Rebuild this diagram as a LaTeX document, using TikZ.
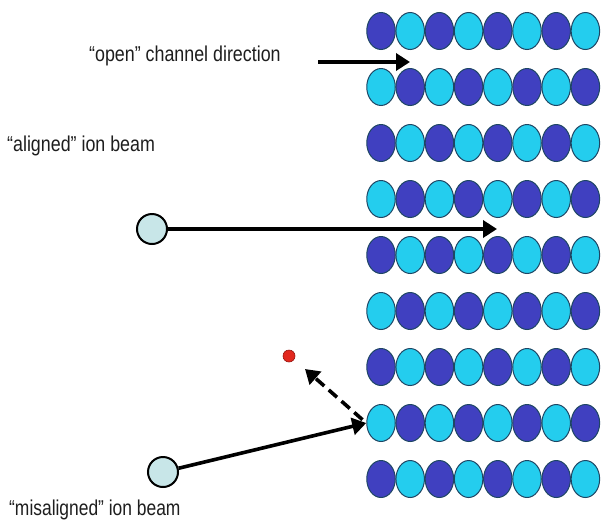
\documentclass[tikz,border=0pt]{standalone}
\usepackage{fontspec}
\setmainfont{Liberation Sans}
\usetikzlibrary{arrows.meta,shapes.geometric}

\definecolor{atomdark}{RGB}{64,64,192}
\definecolor{atomlight}{RGB}{36,205,238}
\definecolor{atomline}{RGB}{30,70,100}
\definecolor{ionfill}{RGB}{200,230,232}
\definecolor{recoil}{RGB}{226,40,30}
\definecolor{recoilline}{RGB}{150,20,15}
\definecolor{textgray}{RGB}{30,30,30}

\begin{document}
\begin{tikzpicture}[x=1pt,y=-1pt,
  atom/.style={ellipse, draw=atomline, line width=1pt, minimum width=28.5pt,
               minimum height=37pt, inner sep=0pt},
  darkatom/.style={atom, fill=atomdark},
  lightatom/.style={atom, fill=atomlight},
  ion/.style={circle, draw=black, line width=2pt, fill=ionfill,
              minimum size=30pt, inner sep=0pt},
  beam/.style={line width=3.6pt, -{Triangle[length=14pt,width=17pt]}},
  label/.style={anchor=base west, inner sep=0pt, text=textgray,
                font=\fontsize{21.5}{25}\selectfont}]

\fill[white] (0,0) rectangle (601,523);
\useasboundingbox (0,0) rectangle (601,523);

% crystal lattice: 9 rows of 8 atoms, alternating colours
\foreach \r in {1,...,9}{
  \foreach \c in {1,...,8}{
    \pgfmathtruncatemacro\s{\r+\c}
    \ifodd\s \def\kind{lightatom}\else\def\kind{darkatom}\fi
    \node[\kind] (a-\r-\c) at ({381+29.2*(\c-1)}, {31+56*(\r-1)}) {};
  }
}

% open channel direction
\coordinate (openS) at (318,62);
\coordinate (openT) at (410,62);
\draw[beam] (openS) -- (openT);
\node[label] (lblOpen) at (89,61) {\scalebox{0.83}[1]{“open” channel direction}};

% aligned ion beam
\node[label] (lblAligned) at (7,151) {\scalebox{0.83}[1]{“aligned” ion beam}};
\node[ion] (ionA) at (152,229) {};
\coordinate (tipA) at (497,229);
\draw[beam] (ionA) -- (tipA);

% misaligned ion beam and recoil
\node[ion] (ionB) at (163,472) {};
\draw[beam] (ionB) -- (a-8-1.west);
\node[circle, fill=recoil, draw=recoilline, line width=0.6pt,
      minimum width=11pt, minimum height=12pt, inner sep=0pt] (rec) at (289,356) {};
\coordinate (tipC) at (305,369);
\draw[beam, dash pattern=on 11pt off 6pt, shorten <=5pt] (a-8-1.west) -- (tipC);
\node[label] (lblMis) at (9,515) {\scalebox{0.81}[1]{“misaligned” ion beam}};

\end{tikzpicture}
\end{document}
